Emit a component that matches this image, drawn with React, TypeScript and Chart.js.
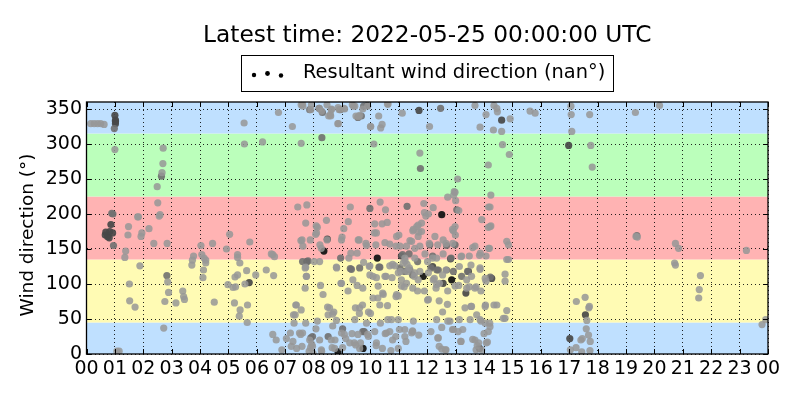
import React, { useEffect, useRef } from "react";
import { Chart, registerables } from "chart.js";

Chart.register(...registerables);

const TITLE = "Latest time: 2022-05-25 00:00:00 UTC";
const LEGEND_LABEL = "Resultant wind direction (nan°)";
const Y_LABEL = "Wind direction (°)";
const HOUR_LABELS = [
  "00", "01", "02", "03", "04", "05", "06", "07", "08", "09", "10", "11",
  "12", "13", "14", "15", "16", "17", "18", "19", "20", "21", "22", "23", "00",
];
const BAND_LIMITS = [0, 45, 135, 225, 315, 360];
const BAND_COLORS = ["#bfe0ff", "#fffbb4", "#ffb3b3", "#bbffbb", "#bfe0ff"];

// [hour of day, wind direction in degrees]
const lightPoints: [number, number][] = [
  [0.15, 329], [0.27, 329], [0.39, 329], [0.5, 329], [0.62, 328],
  [1.0, 292], [1.07, 4], [1.15, 4],
  [1.48, 182], [1.46, 170], [1.8, 196], [1.83, 196], [1.95, 173], [1.92, 168], [2.2, 179], [2.37, 158], [2.84, 158],
  [1.38, 147], [1.35, 138], [1.88, 126], [1.51, 100], [1.52, 76], [1.71, 67],
  [2.7, 294], [2.69, 272], [2.66, 259], [2.49, 239], [2.51, 216], [2.56, 197], [2.59, 199],
  [2.86, 103], [2.89, 88], [2.76, 75], [2.72, 37], [3.15, 73], [3.39, 90], [3.42, 82], [3.45, 78],
  [4.03, 155], [4.06, 142], [4.14, 137], [4.2, 134], [4.2, 130], [4.12, 120], [4.1, 109], [3.77, 140], [3.73, 134], [3.71, 127], [4.44, 158], [4.5, 74],
  [4.93, 150], [5.04, 171], [5.32, 142], [5.32, 138], [5.4, 130], [5.23, 110], [5.32, 113], [4.98, 99], [5.16, 95], [5.25, 96], [5.21, 73], [5.41, 63], [5.38, 54], [5.58, 100], [5.64, 119], [5.96, 113], [5.67, 70], [5.66, 45], [5.75, 160], [5.56, 300], [5.55, 330],
  [6.33, 120], [6.2, 303], [6.88, 6],
  [6.76, 345], [7.25, 325], [7.56, 356], [7.62, 354], [7.92, 356], [8.47, 356], [8.62, 349], [8.59, 342], [8.6, 340], [8.86, 352], [8.87, 329], [9.09, 350], [9.36, 356], [9.45, 354], [9.62, 341], [10.01, 325], [10.29, 340], [10.36, 323], [10.41, 328], [10.62, 357], [11.12, 344],
  [7.61, 357], [7.9, 349], [8.2, 351], [8.28, 347], [8.63, 350], [8.9, 349], [9.07, 351], [9.4, 354], [9.49, 340], [9.58, 339], [9.73, 350], [9.9, 354], [10.0, 325], [10.6, 357], [8.85, 329], [8.53, 340],
  [7.56, 301], [10.12, 300],
  [7.44, 210], [7.76, 213], [7.72, 187], [8.09, 183], [8.45, 191], [9.29, 210], [9.22, 189], [9.06, 179], [10.34, 217], [10.53, 206], [10.15, 186], [10.41, 186], [10.59, 188],
  [8.1, 173], [8.47, 163], [8.22, 156], [7.55, 162], [9.0, 167], [9.57, 163], [9.31, 144], [10.14, 173], [9.84, 158], [10.19, 156], [10.9, 154], [11.0, 170],
  [6.56, 142], [6.62, 139], [6.51, 143], [6.59, 112], [7.59, 163], [7.88, 163], [7.62, 154], [8.07, 171], [8.13, 181], [8.27, 151], [7.72, 124], [7.74, 111], [8.21, 132], [8.8, 124], [9.24, 137], [8.98, 163], [9.6, 163], [9.86, 155], [9.53, 144], [9.76, 131], [9.98, 126], [10.09, 111], [10.21, 109], [10.27, 97], [10.51, 111], [10.68, 126], [10.86, 126], [10.98, 116], [11.09, 106], [10.92, 85], [10.21, 173], [10.51, 159], [10.68, 157], [10.92, 168], [11.04, 154],
  [7.7, 123], [7.75, 111], [8.02, 132], [8.81, 123], [9.96, 125], [10.55, 111], [10.78, 128], [10.76, 109], [11.22, 133], [11.3, 118],
  [8.24, 98], [8.33, 85], [8.56, 66], [8.71, 60], [8.51, 56], [8.98, 101], [9.21, 90], [9.53, 98], [9.62, 66], [9.72, 70], [9.93, 60], [10.09, 80], [10.33, 70], [10.45, 85], [10.6, 69], [10.98, 83], [7.39, 70], [7.56, 63], [7.29, 56], [7.72, 44], [8.13, 47], [8.8, 48], [9.45, 49], [9.86, 44], [10.74, 49], [10.98, 49], [7.7, 94],
  [8.96, 101], [9.38, 106], [9.73, 94], [9.98, 113], [10.26, 80], [10.43, 87], [10.9, 82], [11.19, 96], [8.49, 67], [8.67, 57], [9.47, 66], [9.61, 58], [10.0, 58], [10.35, 44], [10.61, 49],
  [6.56, 28], [6.68, 20], [7.04, 22], [7.18, 30], [7.27, 18], [7.21, 11], [7.54, 28], [7.59, 11], [7.86, 20], [7.89, 9], [7.98, 1], [8.27, 6], [8.21, 20], [8.62, 20], [8.74, 8], [8.98, 30], [9.13, 22], [9.27, 16], [9.48, 13], [9.62, 8], [9.56, 28], [9.93, 25], [10.15, 32], [10.21, 16], [10.42, 8], [10.56, 30], [10.68, 32], [10.89, 25], [10.98, 8], [11.21, 35],
  [7.31, 44], [7.37, 70], [7.35, 56], [7.5, 30], [7.4, 8], [7.84, 4], [7.93, 14],
  [7.61, 30], [8.08, 36], [7.96, 11], [8.28, 4], [8.67, 40], [8.75, 20], [9.08, 28], [9.35, 29], [9.43, 16], [9.65, 16], [9.9, 28], [8.65, 9], [9.02, 9], [10.2, 12], [10.52, 29], [10.78, 20], [10.72, 5], [11.02, 35],
  [13.68, 355], [14.35, 355], [14.45, 351], [14.47, 346], [14.07, 342], [14.92, 336], [13.86, 324], [14.33, 320], [14.62, 318], [12.08, 325], [15.62, 347], [15.8, 344], [14.65, 299], [14.89, 285], [11.74, 287], [14.15, 270], [13.07, 250], [14.24, 227], [12.72, 224], [12.98, 231], [13.0, 219], [13.11, 205], [11.88, 215], [12.21, 209], [12.04, 200], [11.95, 197], [11.8, 187], [11.68, 184], [13.92, 192], [14.21, 210], [14.21, 182],
  [12.95, 232], [12.93, 227], [11.9, 202], [14.16, 210], [14.24, 183], [11.63, 182], [11.49, 176], [11.7, 174], [11.39, 162], [12.07, 158], [12.37, 156], [12.66, 158], [12.99, 170], [12.92, 176], [12.9, 158], [13.6, 152], [13.87, 144], [14.16, 151],
  [11.51, 178], [11.68, 168], [11.8, 175], [12.27, 168], [12.89, 178], [12.98, 182], [12.56, 163], [11.45, 161], [11.27, 154], [11.56, 151], [11.74, 154], [13.68, 154], [14.15, 181], [14.19, 151], [14.8, 161], [14.86, 156], [14.86, 135], [11.21, 137], [11.56, 137], [11.92, 143], [12.33, 137], [12.56, 143], [13.21, 140], [13.48, 140], [13.84, 141], [14.07, 140],
  [11.15, 130], [11.29, 128], [11.56, 116], [11.09, 97], [11.27, 101], [11.68, 106], [11.74, 118], [12.04, 116], [12.21, 106], [12.33, 99], [12.98, 97], [13.13, 125], [13.39, 106], [13.39, 94], [13.56, 111], [13.68, 94], [13.86, 123], [14.04, 108], [14.74, 114], [14.74, 104], [14.45, 70], [14.35, 70], [14.04, 68], [13.56, 68], [13.33, 66], [12.71, 71], [12.42, 76], [12.04, 78], [11.51, 47], [12.33, 49], [12.8, 47], [13.13, 49], [13.51, 49], [13.74, 56], [13.86, 49], [14.04, 44], [14.8, 62], [14.74, 51],
  [11.06, 118], [11.37, 123], [11.54, 111], [12.01, 132], [12.19, 137], [12.54, 113], [12.66, 120], [13.19, 139], [13.54, 127], [13.86, 121], [14.8, 135], [11.49, 94], [12.25, 108], [12.31, 94], [12.43, 101], [13.11, 98], [13.48, 96], [13.72, 96], [14.07, 104], [12.72, 47], [13.54, 68], [13.89, 47],
  [11.48, 33], [11.45, 30], [11.21, 25], [12.51, 38], [12.92, 35], [13.09, 32], [12.39, 23], [12.66, 6], [12.51, 7], [13.18, 18], [13.68, 20], [13.76, 12], [13.92, 6], [13.72, 6], [14.12, 17], [14.15, 32], [14.21, 39],
  [14.0, 29], [14.08, 16], [14.2, 44], [14.05, 70], [14.68, 51], [13.6, 21], [13.25, 35], [12.42, 11], [11.7, 27], [12.13, 32], [11.25, 18], [12.01, 77], [12.54, 60], [11.9, 90], [12.72, 90], [13.89, 90], [11.66, 90],
  [12.37, 23], [12.64, 6], [12.89, 35], [13.19, 18], [13.81, 16], [11.49, 32],
  [17.06, 354], [17.07, 342], [17.72, 342], [17.09, 318], [17.76, 298], [17.81, 267], [19.33, 345], [20.18, 355], [19.35, 168], [19.4, 167], [20.74, 158], [20.85, 151], [23.24, 148], [20.71, 130], [20.74, 127], [21.62, 112], [21.58, 92], [21.56, 80],
  [17.56, 81], [17.25, 75], [17.71, 68], [17.69, 66], [17.62, 48], [17.6, 36], [17.68, 27], [17.41, 20], [17.46, 22], [17.74, 18], [17.24, 9], [17.04, 6], [17.44, 3], [17.73, 5], [23.79, 42], [23.92, 49],
];

const midPoints: [number, number][] = [
  [0.98, 322], [0.89, 201], [0.93, 200], [2.64, 254], [2.83, 112], [0.95, 155],
  [7.86, 349], [8.19, 351], [8.31, 345], [8.94, 349], [9.56, 338], [9.68, 340], [9.76, 354], [9.89, 355], [8.29, 309], [9.98, 208], [11.29, 211],
  [7.8, 133], [8.95, 137], [9.33, 121], [9.62, 123], [10.33, 124], [8.51, 25], [9.78, 32], [7.96, 25],
  [7.61, 132], [9.29, 122], [10.3, 124], [11.13, 142], [11.66, 132], [12.13, 123], [12.34, 120], [12.84, 137], [13.42, 118], [14.22, 110], [7.9, 23], [9.02, 36], [9.73, 32],
  [12.47, 351], [11.76, 265], [13.04, 206],
  [12.09, 156], [12.68, 155], [12.98, 156], [11.36, 143], [12.19, 140],
  [11.04, 123], [11.21, 118], [11.39, 120], [11.48, 113], [12.39, 120], [12.68, 120], [12.92, 118], [13.21, 111],
  [19.38, 169],
];

const darkPoints: [number, number][] = [
  [1.0, 341], [1.02, 334], [1.02, 332], [1.02, 329], [0.86, 185], [0.68, 174], [0.74, 168], [0.82, 175], [0.66, 170], [0.8, 166], [0.92, 173], [5.73, 102],
  [8.48, 164], [11.71, 348], [14.62, 334], [11.09, 140], [12.82, 136], [12.19, 125], [12.56, 101], [13.45, 118], [14.27, 108], [13.84, 8], [13.36, 87],
  [16.98, 298], [17.57, 56], [17.02, 22], [7.76, 132],
];

const blackPoints: [number, number][] = [
  [8.36, 147], [10.24, 137], [8.86, 3], [9.74, 8], [12.51, 199], [11.86, 111], [12.86, 106],
];

const FONT = "DejaVu Sans";

const toXY = (pts: [number, number][]) => pts.map(([x, y]) => ({ x, y }));

const bandsPlugin = {
  id: "bands",
  beforeDraw(chart: any) {
    const { ctx, chartArea, scales } = chart;
    const y = scales.y;
    ctx.save();
    for (let i = 0; i < BAND_COLORS.length; i++) {
      const top = y.getPixelForValue(BAND_LIMITS[i + 1]);
      const bottom = y.getPixelForValue(BAND_LIMITS[i]);
      ctx.fillStyle = BAND_COLORS[i];
      ctx.fillRect(chartArea.left, top, chartArea.right - chartArea.left, bottom - top);
    }
    ctx.restore();
  },
};

const framePlugin = {
  id: "frame",
  afterDraw(chart: any) {
    const { ctx, chartArea, scales } = chart;
    const { left, right, top, bottom } = chartArea;
    const cx = (left + right) / 2;
    ctx.save();
    ctx.strokeStyle = "#000";
    ctx.lineWidth = 1;
    const tl = 5;
    ctx.beginPath();
    scales.x.ticks.forEach((t: any) => {
      const px = Math.round(scales.x.getPixelForValue(t.value)) + 0.5;
      ctx.moveTo(px, bottom);
      ctx.lineTo(px, bottom - tl);
      ctx.moveTo(px, top);
      ctx.lineTo(px, top + tl);
    });
    scales.y.ticks.forEach((t: any) => {
      const py = Math.round(scales.y.getPixelForValue(t.value)) + 0.5;
      ctx.moveTo(left, py);
      ctx.lineTo(left + tl, py);
      ctx.moveTo(right, py);
      ctx.lineTo(right - tl, py);
    });
    ctx.stroke();
    ctx.lineWidth = 1.3;
    ctx.strokeRect(left, top, right - left, bottom - top);

    ctx.fillStyle = "#000";
    // title
    ctx.font = `23.3px "${FONT}"`;
    ctx.textAlign = "center";
    ctx.textBaseline = "alphabetic";
    ctx.fillText(TITLE, cx, 42.3);

    // y axis label
    ctx.save();
    ctx.translate(28, 235);
    ctx.rotate(-Math.PI / 2);
    ctx.font = `18.5px "${FONT}"`;
    ctx.textAlign = "center";
    ctx.textBaseline = "middle";
    ctx.fillText(Y_LABEL, 0, 0);
    ctx.restore();

    // legend
    ctx.lineWidth = 1;
    ctx.strokeRect(241.5, 55.5, 372, 36);
    const dots: [number, number, number][] = [
      [254, 75, 2.2],
      [267.5, 73.5, 2.4],
      [281, 75.5, 2.2],
    ];
    dots.forEach(([dx, dy, r]) => {
      ctx.beginPath();
      ctx.arc(dx, dy, r, 0, Math.PI * 2);
      ctx.fill();
    });
    ctx.font = `19.4px "${FONT}"`;
    ctx.textBaseline = "alphabetic";
    ctx.textAlign = "left";
    ctx.fillText(LEGEND_LABEL, 303, 78.3);
    ctx.restore();
  },
};

export default function App() {
  const canvasRef = useRef<HTMLCanvasElement | null>(null);

  useEffect(() => {
    if (!canvasRef.current) return;
    const common = {
      pointRadius: 3.6,
      pointHoverRadius: 3.6,
      borderWidth: 0,
      clip: 0,
    };
    const chart = new Chart(canvasRef.current, {
      type: "scatter",
      data: {
        datasets: [
          { ...common, label: LEGEND_LABEL, data: toXY(lightPoints), backgroundColor: "rgba(150,150,150,0.85)" },
          { ...common, label: "mid", data: toXY(midPoints), backgroundColor: "rgba(112,112,112,0.9)" },
          { ...common, label: "dark", data: toXY(darkPoints), backgroundColor: "rgba(72,72,72,0.92)" },
          { ...common, label: "black", data: toXY(blackPoints), backgroundColor: "rgba(22,22,22,0.95)" },
        ],
      },
      options: {
        animation: false,
        responsive: false,
        devicePixelRatio: 1,
        layout: { padding: { left: 0, right: 32, top: 102, bottom: 0 } },
        plugins: {
          legend: { display: false },
          tooltip: { enabled: false },
          title: { display: false },
        },
        scales: {
          x: {
            type: "linear",
            min: 0,
            max: 24,
            afterFit: (s: any) => {
              s.height = 46;
            },
            ticks: {
              stepSize: 1,
              autoSkip: false,
              maxRotation: 0,
              padding: 4,
              color: "#000",
              font: { family: FONT, size: 19 },
              callback: (_v: any, i: number) => HOUR_LABELS[i],
            },
            grid: {
              color: "rgba(0,0,0,0.85)",
              lineWidth: 1,
              drawTicks: false,
            },
            border: { display: false, dash: [1, 3] },
          },
          y: {
            type: "linear",
            min: 0,
            max: 360,
            afterFit: (s: any) => {
              s.width = 86.5;
            },
            ticks: {
              stepSize: 50,
              includeBounds: false,
              padding: 4.5,
              color: "#000",
              font: { family: FONT, size: 19 },
            },
            grid: {
              color: "rgba(0,0,0,0.85)",
              lineWidth: 1,
              drawTicks: false,
            },
            border: { display: false, dash: [1, 3] },
          },
        },
      },
      plugins: [bandsPlugin, framePlugin],
    });
    return () => chart.destroy();
  }, []);

  return (
    <div style={{ position: "absolute", left: 0, top: 0, width: 800, height: 400 }}>
      <canvas ref={canvasRef} width={800} height={400} />
    </div>
  );
}
